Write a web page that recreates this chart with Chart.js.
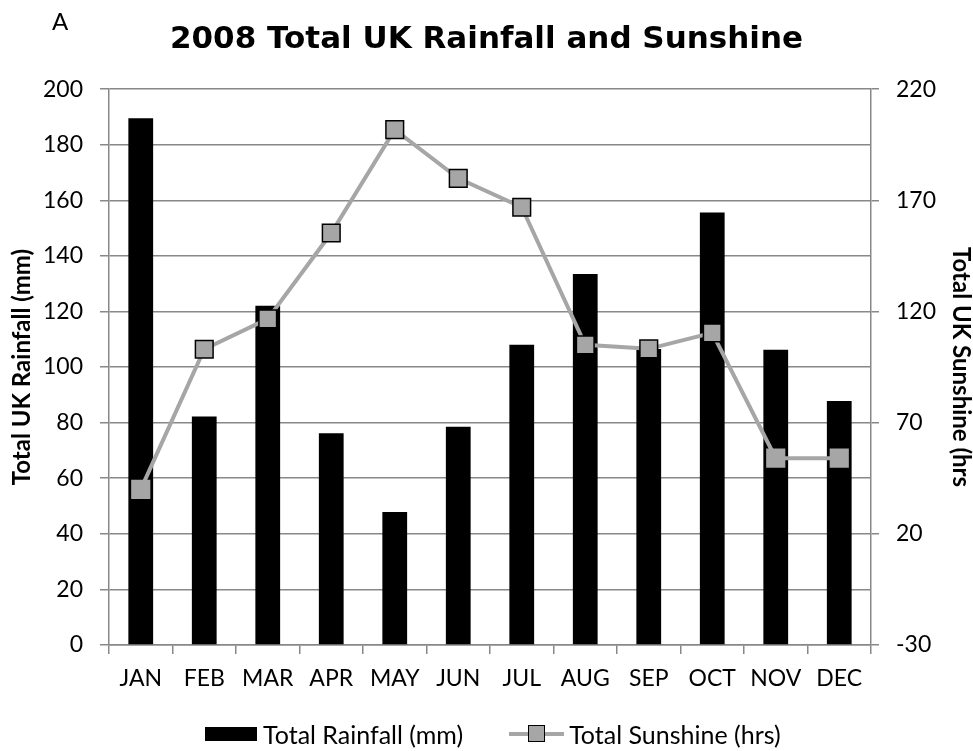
<!DOCTYPE html>
<html>
<head>
<meta charset="utf-8">
<script src="https://cdn.jsdelivr.net/npm/chart.js@4.4.1/dist/chart.umd.min.js"></script>
<style>
  body { margin: 0; background: #fff; }
  #wrap { position: relative; width: 973px; height: 751px; }
  #panel { position: absolute; left: 52px; top: 6px; font: 24px Lato, sans-serif; color: #000; }
  #legend { position: absolute; left: 205px; top: 719px; height: 30px; font: 25px Lato, sans-serif; color: #000; display: flex; align-items: center; white-space: nowrap; }
  .item { display: flex; align-items: center; }
  .item + .item { margin-left: 46px; }
  .box { width: 52px; height: 14px; background: #000; margin-right: 6px; }
  .lineSym { position: relative; width: 55px; height: 18px; margin-right: 5px; }
  .lineSym .ln { position: absolute; left: 0; right: 0; top: 7px; height: 4px; background: #a6a6a6; }
  .lineSym .sq { position: absolute; left: 19px; top: 0; width: 15px; height: 15px; background: #a6a6a6; border: 1.5px solid #000; }
</style>
</head>
<body>
<div id="wrap">
  <canvas id="myChart"></canvas>
  <div id="panel">A</div>
  <div id="legend"></div>
</div>
<script>
const months = ['JAN', 'FEB', 'MAR', 'APR', 'MAY', 'JUN', 'JUL', 'AUG', 'SEP', 'OCT', 'NOV', 'DEC'];
const rainfall = [189.5, 82.2, 122.1, 76.2, 47.8, 78.5, 108.0, 133.5, 106.5, 155.6, 106.2, 87.8];
const sunshine = [40, 103, 116.7, 155.3, 201.8, 179.9, 166.9, 105, 103.2, 110.4, 54, 54];
const rainLabel = 'Total Rainfall (mm)';
const sunLabel = 'Total Sunshine (hrs)';

const gridGrey = '#888888';
const markerGrey = '#a6a6a6';
// in the original the first and the last two markers have no dark outline
const markerEdges = months.map((m, i) => (i === 0 || i >= 10) ? markerGrey : '#000');

Chart.defaults.font.family = 'Lato, sans-serif';
Chart.defaults.color = '#000';

const ctx = document.getElementById('myChart');
new Chart(ctx, {
    type: 'bar',
    data: {
        labels: months,
        datasets: [{
            type: 'bar',
            label: rainLabel,
            data: rainfall,
            backgroundColor: '#000',
            barPercentage: 0.39,
            categoryPercentage: 1,
            yAxisID: 'y',
            order: 2
        }, {
            type: 'line',
            label: sunLabel,
            data: sunshine,
            borderColor: markerGrey,
            backgroundColor: markerGrey,
            borderWidth: 4,
            pointStyle: 'rect',
            pointRadius: 12.5,
            pointBackgroundColor: markerGrey,
            pointBorderColor: markerEdges,
            pointBorderWidth: 1.5,
            tension: 0,
            yAxisID: 'y1',
            order: 1
        }]
    },
    options: {
        responsive: true,
        maintainAspectRatio: false,
        animation: false,
        layout: { padding: { left: 0, right: 0, top: 0, bottom: 47.5 } },
        plugins: {
            legend: { display: false },
            tooltip: { enabled: false },
            title: {
                display: true,
                text: '2008 Total UK Rainfall and Sunshine',
                font: { family: '"DejaVu Sans", sans-serif', size: 31, weight: 'bold' },
                color: '#000',
                padding: { top: 21, bottom: 31 }
            }
        },
        scales: {
            x: {
                grid: { drawOnChartArea: false, offset: true, color: gridGrey, lineWidth: 1.5, tickLength: 9 },
                border: { color: gridGrey, width: 1.5 },
                ticks: { font: { size: 23 }, padding: 11, maxRotation: 0 }
            },
            y: {
                position: 'left',
                min: 0,
                max: 200,
                ticks: { stepSize: 20, font: { size: 23 }, padding: 17 },
                grid: { color: gridGrey, lineWidth: 1.5, tickLength: 9 },
                border: { color: gridGrey, width: 1.5 },
                title: {
                    display: true,
                    text: 'Total UK Rainfall (mm)',
                    font: { size: 24, weight: 'bold', lineHeight: 1 },
                    padding: { top: 10, bottom: 0 }
                },
                afterFit: (scale) => { scale.width = 109; }
            },
            y1: {
                position: 'right',
                min: -30,
                max: 220,
                ticks: { stepSize: 50, font: { size: 23 }, padding: 17 },
                grid: { drawOnChartArea: false, color: gridGrey, lineWidth: 1.5, tickLength: 8 },
                border: { color: gridGrey, width: 1.5 },
                title: {
                    display: true,
                    text: 'Total UK Sunshine (hrs',
                    font: { size: 24, weight: 'bold', lineHeight: 1 },
                    padding: { top: 0, bottom: 0 }
                },
                afterFit: (scale) => { scale.width = 102; }
            }
        }
    }
});

// html legend
const legend = document.getElementById('legend');
legend.innerHTML =
    '<div class="item"><span class="box"></span><span>' + rainLabel + '</span></div>' +
    '<div class="item"><span class="lineSym"><span class="ln"></span><span class="sq"></span></span><span>' + sunLabel + '</span></div>';
</script>
</body>
</html>
